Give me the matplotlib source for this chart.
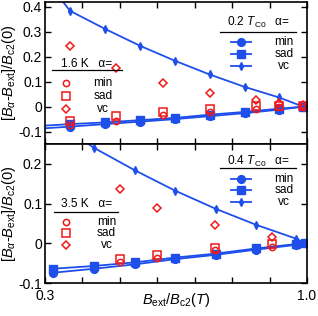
import matplotlib
matplotlib.use("Agg")
import matplotlib.pyplot as plt

plt.rcParams['font.family'] = ['Liberation Sans', 'DejaVu Sans']
plt.rcParams['mathtext.fontset'] = 'custom'
plt.rcParams['mathtext.rm'] = 'Liberation Sans'
plt.rcParams['mathtext.it'] = 'Liberation Sans:italic'
plt.rcParams['mathtext.bf'] = 'Liberation Sans:bold'

# ---------------- data ----------------
# top panel (0.2 Tc0 / 1.6 K)
x_top = [0.275, 0.367, 0.46, 0.554, 0.647, 0.74, 0.834, 0.925, 0.99]
min_top = [-0.089, -0.080, -0.070, -0.060, -0.050, -0.038, -0.026, -0.012, 0.0]
sad_top = [-0.078, -0.070, -0.063, -0.054, -0.045, -0.032, -0.021, -0.008, 0.0]
vc_top = [0.56, 0.384, 0.312, 0.244, 0.184, 0.129, 0.079, 0.037, 0.0]

xr_top = [0.367, 0.49, 0.616, 0.74, 0.864, 0.926, 0.99]
rmin_top = [-0.072, -0.056, -0.033, -0.022, -0.010, -0.002, -0.002]
rsad_top = [-0.056, -0.037, -0.023, -0.009, 0.004, 0.004, 0.002]
rvc_top = [0.245, 0.155, 0.095, 0.053, 0.028, 0.015, 0.008]

# bottom panel (0.4 Tc0 / 3.5 K)
x_bot = [0.322, 0.432, 0.54, 0.647, 0.756, 0.863, 0.97, 0.995]
min_bot = [-0.074, -0.064, -0.053, -0.040, -0.029, -0.016, -0.004, 0.0]
sad_bot = [-0.064, -0.057, -0.048, -0.036, -0.026, -0.013, -0.002, 0.0]
vc_bot = [0.31, 0.240, 0.184, 0.133, 0.087, 0.047, 0.012, 0.0]

xr_bot = [0.50, 0.60, 0.754, 0.906]
rmin_bot = [-0.048, -0.036, -0.018, -0.010]
rsad_bot = [-0.040, -0.029, -0.013, -0.001]
rvc_bot = [0.138, 0.088, 0.045, 0.016]

xticks = [0.3, 0.4, 0.5, 0.6, 0.7, 0.8, 0.9, 1.0]
xticklabels = ['0.3', '', '', '', '', '', '', '1.0']
yticks_top = [-0.1, 0.0, 0.1, 0.2, 0.3, 0.4]
yticklabels_top = ['-0.1', '0', '0.1', '0.2', '0.3', '0.4']
yticks_bot = [-0.1, 0.0, 0.1, 0.2]
yticklabels_bot = ['-0.1', '0', '0.1', '0.2']
series_names = ['min', 'sad', 'vc']
blue_titles = [r'0.2 $T_{\rm C0}$   α=', r'0.4 $T_{\rm C0}$   α=']
red_titles = ['1.6 K   α=', '3.5 K   α=']

BLUE = '#1f4fea'
RED = '#f01818'
FS_TICK = 10
FS_LEG = 8.6
FS_LAB = 10.5

fig = plt.figure(figsize=(3.18, 3.16), dpi=100)
L, R = 0.1415, 0.9654
ax1 = fig.add_axes([L, 0.544, R - L, 0.994 - 0.544])
ax2 = fig.add_axes([L, 0.1044, R - L, 0.544 - 0.1044])

blue_markers = ['o', 's', 'd']
blue_ms = [5.6, 5.2, 4.2]
red_markers = ['o', 's', 'D']
red_ms = [4.5, 5.5, 4]


def draw(ax, xb, mins, sads, vcs, xr, rmins, rsads, rvcs, ylim, yt, ytl,
         btitle, rtitle, blay, rlay):
    for ys, m, ms in zip([mins, sads, vcs], blue_markers, blue_ms):
        ax.plot(xb, ys, color=BLUE, marker=m, ms=ms, lw=1.3, clip_on=True)
    for ys, m, ms in zip([rmins, rsads, rvcs], red_markers, red_ms):
        ax.plot(xr, ys, ls='none', marker=m, ms=ms, mfc='none', mec=RED, mew=1.1)
    ax.set_xlim(0.3, 1.0)
    ax.set_ylim(*ylim)
    ax.set_yticks(yt)
    ax.set_yticklabels(ytl, fontsize=FS_TICK)
    ax.set_xticks(xticks)
    ax.tick_params(direction='in', length=4, width=1.0, top=True, right=True,
                   labelsize=FS_TICK, pad=2)
    ax.tick_params(axis='x', pad=4)
    for s in ax.spines.values():
        s.set_linewidth(1.2)
    ax.set_ylabel(r'[$B_\alpha$-$B_{\rm ext}$]/$B_{\rm c2}$(0)', fontsize=FS_LAB, labelpad=0)
    T = ax.transAxes
    # blue legend
    tx, ty, ux0, ux1, uy, lx0, lx1, labx, ys = blay
    ax.text(tx, ty, btitle, transform=T, ha='center', va='center', fontsize=FS_LEG)
    ax.plot([ux0, ux1], [uy, uy], transform=T, color='black', lw=0.9)
    for yy, m, ms, nm in zip(ys, blue_markers, blue_ms, series_names):
        ax.plot([lx0, lx1], [yy, yy], transform=T, color=BLUE, lw=1.3)
        ax.plot([(lx0 + lx1) / 2], [yy], transform=T, color=BLUE, marker=m, ms=ms)
        ax.text(labx, yy, nm, transform=T, ha='center', va='center', fontsize=FS_LEG)
    # red legend
    tx, ty, ux0, ux1, uy, mx, labx, ys = rlay
    ax.text(tx, ty, rtitle, transform=T, ha='center', va='center', fontsize=FS_LEG)
    ax.plot([ux0, ux1], [uy, uy], transform=T, color='black', lw=0.9)
    for yy, m, ms, nm in zip(ys, red_markers, red_ms, series_names):
        ax.plot([mx], [yy], transform=T, ls='none', marker=m, ms=ms, mfc='none',
                mec=RED, mew=1.1)
        ax.text(labx, yy, nm, transform=T, ha='center', va='center', fontsize=FS_LEG)


draw(ax1, x_top, min_top, sad_top, vc_top, xr_top, rmin_top, rsad_top, rvc_top,
     (-0.15, 0.42), yticks_top, yticklabels_top, blue_titles[0], red_titles[0],
     (0.815, 0.852, 0.668, 0.958, 0.789, 0.71, 0.786, 0.912, [0.715, 0.637, 0.552]),
     (0.16, 0.563, 0.027, 0.294, 0.521, 0.08, 0.221, [0.43, 0.335, 0.25]))
ax1.set_xticklabels([])

draw(ax2, x_bot, min_bot, sad_bot, vc_bot, xr_bot, rmin_bot, rsad_bot, rvc_bot,
     (-0.1, 0.25), yticks_bot, yticklabels_bot, blue_titles[1], red_titles[1],
     (0.815, 0.878, 0.668, 0.958, 0.825, 0.71, 0.786, 0.912, [0.748, 0.667, 0.583]),
     (0.16, 0.568, 0.034, 0.279, 0.513, 0.08, 0.235, [0.441, 0.358, 0.273]))
ax2.set_xticklabels(xticklabels)
ax2.set_xlabel(r'$B_{\rm ext}/B_{\rm c2}(T)$', fontsize=FS_LAB, labelpad=-8)

fig.savefig('out.png', dpi=100)
